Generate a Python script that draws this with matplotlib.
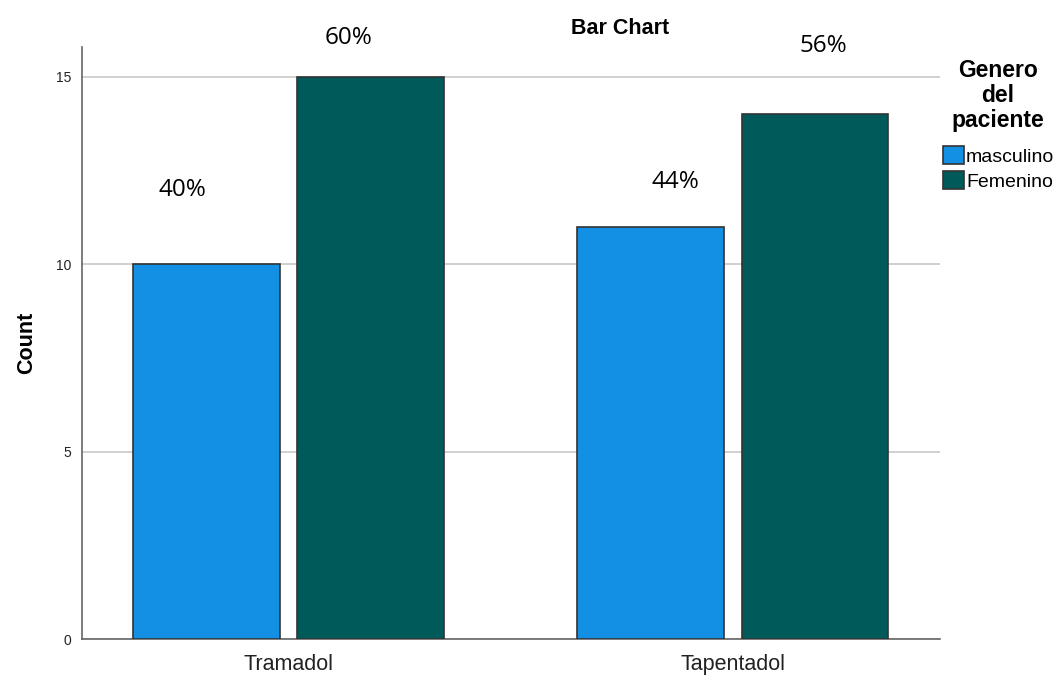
import matplotlib
matplotlib.use('Agg')
import matplotlib.pyplot as plt
import numpy as np

# data
drugs = ['Tramadol', 'Tapentadol']
genders = ['masculino', 'Femenino']
counts_masc = [10, 11]
counts_fem = [15, 14]
pct_masc = ['40%', '44%']
pct_fem = ['60%', '56%']

colors = ['#1390e3', '#005a5a']
# label nudges (pixels) to mimic the hand placed labels
dx_masc = [-24, 24]
dx_fem = [-22, 8]
dy_masc = [74, 45]
dy_fem = [39, 68]

plt.rcParams['font.family'] = ['Liberation Sans', 'DejaVu Sans']

fig = plt.figure(figsize=(10.57, 6.75), dpi=100)
ax = fig.add_axes([0.0776, 0.0533, 0.8117, 0.8771])

x = np.arange(len(drugs))
w = 0.3307
off = 0.1845
b1 = ax.bar(x - off, counts_masc, w, color=colors[0], edgecolor='#333333', linewidth=1.2,
            label=genders[0], zorder=3)
b2 = ax.bar(x + off, counts_fem, w, color=colors[1], edgecolor='#333333', linewidth=1.2,
            label=genders[1], zorder=3)

for bars, labs, dxs, dys in [(b1, pct_masc, dx_masc, dy_masc), (b2, pct_fem, dx_fem, dy_fem)]:
    for r, lab, d, e in zip(bars, labs, dxs, dys):
        ax.annotate(lab, (r.get_x() + r.get_width() / 2, r.get_height()),
                    xytext=(d * 0.72, e * 0.72), textcoords='offset points',
                    ha='center', va='center', fontsize=17.5, family=['Open Sans', 'DejaVu Sans'])

ax.set_xlim(-0.4646, 1.4657)
ax.set_ylim(0, 15.8)
ax.set_yticks([0, 5, 10, 15])
ax.set_xticks(x)
ax.set_xticklabels(drugs, fontsize=15.5, color='#222222')
ax.tick_params(axis='y', length=0, labelsize=10, pad=8, labelcolor='#222222')
ax.tick_params(axis='x', length=0, pad=11)
ax.grid(axis='y', color='#c8c8c8', linewidth=1.2, zorder=0)
for s in ['top', 'right']:
    ax.spines[s].set_visible(False)
for s in ['left', 'bottom']:
    ax.spines[s].set_color('#666666')
    ax.spines[s].set_linewidth(1.2)

ax.set_ylabel('Count', fontsize=15.5, fontweight='bold', labelpad=13)
fig.text(0.587, 0.958, 'Bar Chart', ha='center', va='center', fontsize=15.5, fontweight='bold')

# legend title drawn separately so it can sit centred above the entries
fig.text(0.944, 0.859, 'Genero\ndel\npaciente', ha='center', va='center', fontsize=16.5,
         fontweight='bold', linespacing=1.12, multialignment='center')
leg = fig.legend(handles=[b1, b2], labels=genders, loc='upper left',
                 bbox_to_anchor=(0.892, 0.784), frameon=False, fontsize=14,
                 handlelength=1.1, handleheight=1.1, handletextpad=0.1, labelspacing=0.25,
                 borderpad=0, borderaxespad=0)

fig.savefig('out.png', dpi=100)
